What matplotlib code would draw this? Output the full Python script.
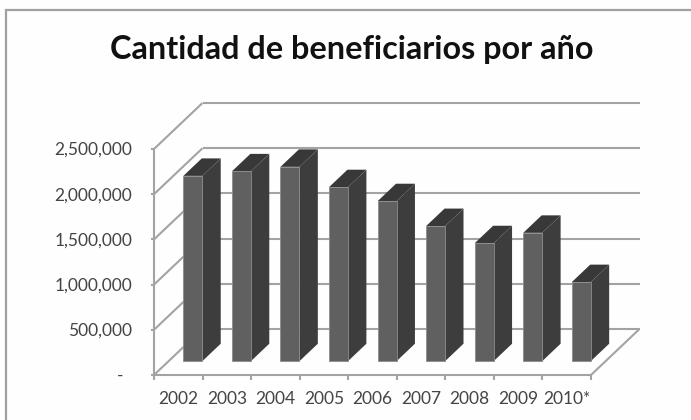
import matplotlib
matplotlib.use('Agg')
import matplotlib.pyplot as plt

# Data
years = ['2002', '2003', '2004', '2005', '2006', '2007', '2008', '2009', '2010*']
beneficiarios = [2050000, 2100000, 2150000, 1925000, 1770000, 1495000, 1305000, 1420000, 875000]
y_ticks = [0, 500000, 1000000, 1500000, 2000000, 2500000]
y_labels = ['-', '500,000', '1,000,000', '1,500,000', '2,000,000', '2,500,000']

W, H = 691, 420
plt.rcParams['font.family'] = ['Lato', 'DejaVu Sans']

fig = plt.figure(figsize=(W / 100, H / 100), dpi=100)
fig.patch.set_facecolor('#fefefe')

# the axes is the front plane of the 3D box
left, right, top, bottom = 154, 591, 149, 375
ax = fig.add_axes([left / W, 1 - bottom / H, (right - left) / W, (bottom - top) / H])
ax.set_xlim(0, len(years))
ax.set_ylim(0, 2500000)
ax.patch.set_visible(False)
for s in ax.spines.values():
    s.set_visible(False)

px_x = (right - left) / len(years)
px_y = (bottom - top) / 2500000

# depth 1 = back wall, expressed in data units
shift_x = 48.5 / px_x
shift_y = 46 / px_y


def proj(x, v, d):
    return x + d * shift_x, v + d * shift_y


grid = '#a3a3a3'
n = len(years)


def seg(p, q, lw=1.5, c=grid, z=1):
    ax.plot([p[0], q[0]], [p[1], q[1]], color=c, lw=lw, clip_on=False, zorder=z,
            solid_capstyle='butt')


for v in y_ticks:
    seg(proj(0, v, 0), proj(0, v, 1))
    seg(proj(0, v, 1), proj(n, v, 1))
seg(proj(0, 0, 0), proj(n, 0, 0))
seg(proj(n, 0, 0), proj(n, 0, 1))
seg(proj(0, 0, 0), proj(0, 2500000, 0))

# ticks
for v in y_ticks:
    seg((0, v), (-3 / px_x, v))
for i in range(n + 1):
    seg((i, 0), (i, -5 / px_y))

# bars
bar_w = 0.39
d0, d1 = 0.30, 0.68
front, side, cap = '#606060', '#3d3d3d', '#383838'
for i, v in enumerate(beneficiarios):
    x0 = i + 0.5 - bar_w / 2
    x1 = x0 + bar_w
    a = [proj(x0, 0, d0), proj(x1, 0, d0), proj(x1, v, d0), proj(x0, v, d0)]
    b = [proj(x1, 0, d0), proj(x1, 0, d1), proj(x1, v, d1), proj(x1, v, d0)]
    c = [proj(x0, v, d0), proj(x1, v, d0), proj(x1, v, d1), proj(x0, v, d1)]
    ax.fill(*zip(*b), color=side, lw=0, clip_on=False, zorder=3)
    ax.fill(*zip(*c), color=cap, lw=0, clip_on=False, zorder=3)
    ax.fill(*zip(*a), facecolor=front, edgecolor='#8c8c8c', lw=0.6, clip_on=False, zorder=4)
    ax.text(i + 0.5, -24 / px_y, years[i], ha='center', va='center',
            fontsize=12.5, color='#444444')

ax.set_xticks([])
ax.set_yticks([])
for v, lab in zip(y_ticks, y_labels):
    # the dash for zero sits further left than the numbers
    off = 31 if lab == '-' else 22
    ax.text(-off / px_x, v - 1 / px_y, lab, ha='right', va='center', fontsize=12.5, color='#444444')

fig.text(351.5 / W, 1 - 50 / H, 'Cantidad de beneficiarios por año', ha='center', va='center',
         fontsize=23.3, fontweight='bold', color='#111111')

# chart frame, only top and left are inside the picture
fig.add_artist(plt.Rectangle((6 / W, -0.05), 1.0, 1 - 10 / H + 0.05, transform=fig.transFigure,
                             fill=False, ec='#a0a0a0', lw=1.6))

fig.savefig('out.png', dpi=100, facecolor=fig.get_facecolor())
